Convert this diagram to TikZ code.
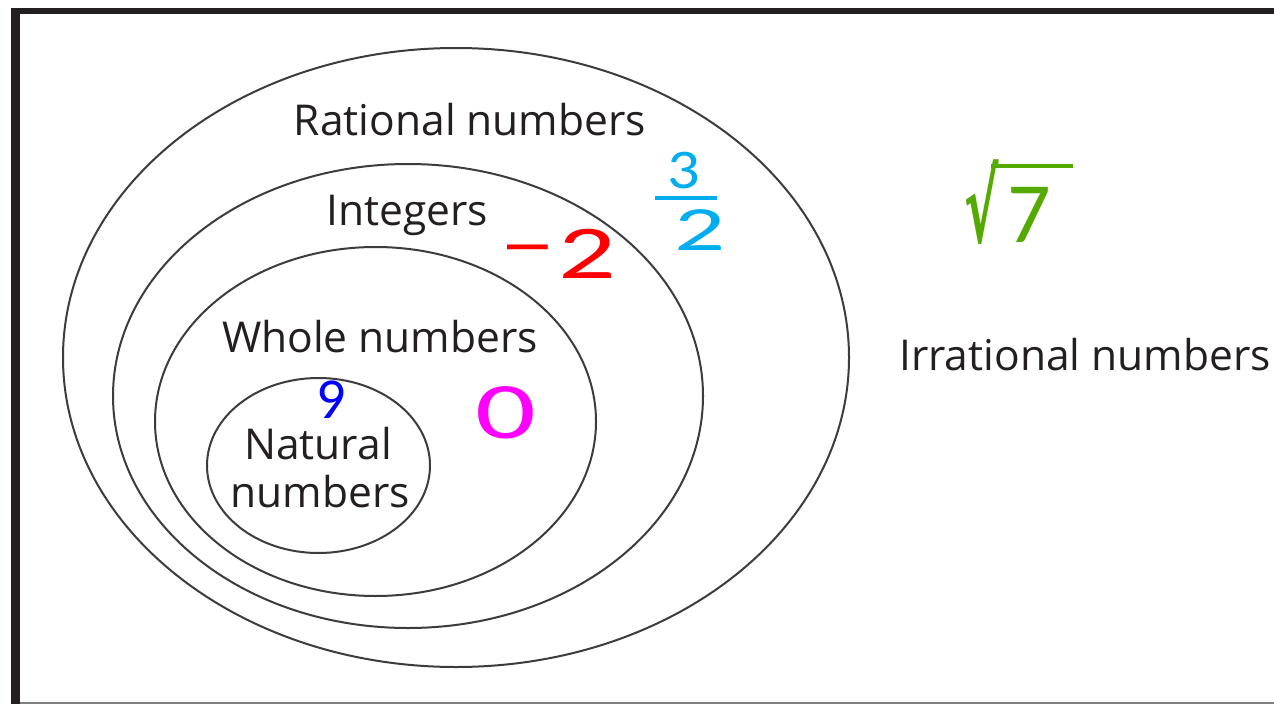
\documentclass[tikz,border=0pt]{standalone}
\usepackage{fontspec}
\setmainfont{Open Sans}
\newfontfamily\hw{Carlito}
\newfontfamily\djv{DejaVu Sans}
\usetikzlibrary{shapes.geometric}
\definecolor{ink}{RGB}{35,31,32}
\definecolor{ring}{RGB}{60,60,60}
\definecolor{hred}{RGB}{255,0,0}
\definecolor{hcyan}{RGB}{0,174,239}
\definecolor{hblue}{RGB}{0,0,255}
\definecolor{hmag}{RGB}{255,0,255}
\definecolor{hgreen}{RGB}{85,170,0}
\definecolor{framec}{RGB}{35,31,32}
\begin{document}
\begin{tikzpicture}[x=1pt,y=-1pt,
  setring/.style={draw=ring, line width=2pt, ellipse, inner sep=0pt},
  lab/.style={text=ink, font=\fontsize{42.5}{50}\selectfont, anchor=base, inner sep=0pt},
  hand/.style={inner sep=0pt, anchor=base}]
\useasboundingbox (0,0) rectangle (1274,704);
\fill[white] (0,0) rectangle (1274,704);
\fill[framec] (11,8) rectangle (1274,14);
\fill[framec] (11,8) rectangle (20,704);
\fill[gray] (20,701.5) rectangle (1274,704);

\node[setring, minimum width=786pt, minimum height=619pt] (rat) at (456,357.5) {};
\node[setring, minimum width=590pt, minimum height=464pt] (int) at (408,396) {};
\node[setring, minimum width=441pt, minimum height=349pt] (whole) at (375.5,421.5) {};
\node[setring, minimum width=223pt, minimum height=175pt] (nat) at (318.5,465.5) {};

\node[lab] (lrat) at (470,135) {Rational numbers};
\node[lab] (lint) at (407,225) {Integers};
\node[lab] (lwhole) at (380,352) {Whole numbers};
\node[lab] (lnat1) at (318,459) {Natural};
\node[lab] (lnat2) at (320,507) {numbers};
\node[lab] (lirr) at (1085,370) {Irrational numbers};

\node[hand, text=hred, font=\hw\fontsize{76}{80}\selectfont] (neg) at (558,278) {\raisebox{10pt}{\scalebox{1.5}[1]{–}}\kern2pt\scalebox{1.5}[1]{2}};
\node[hand, text=hcyan, font=\hw\fontsize{56}{60}\selectfont] (three) at (684,188) {\scalebox{1.15}[1]{3}};
\node[hand, text=hcyan, font=\hw\fontsize{63}{66}\selectfont] (two) at (700,250) {\scalebox{1.6}[1]{2}};
\draw[hcyan, line width=4pt] (three.south west) ++(-12,9) -- ++(62,0);
\node[hand, text=hblue, font=\hw\fontsize{58}{62}\selectfont] (nine) at (331,418) {9};
\node[hand, text=hmag, font=\hw\fontsize{80}{84}\selectfont] (zero) at (506,438) {\scalebox{1.5}[1]{0}};
\node[hand, text=hgreen, font=\hw\fontsize{86}{90}\selectfont, anchor=base west] (root) at (964,242) {{\djv\bfseries\scalebox{0.6}[1.15]{√}}\kern9pt 7};
\draw[hgreen, line width=4.5pt] (root.north west) ++(27,0) coordinate (rt) (rt |- 0,166) -- (1073,166);
\end{tikzpicture}
\end{document}
